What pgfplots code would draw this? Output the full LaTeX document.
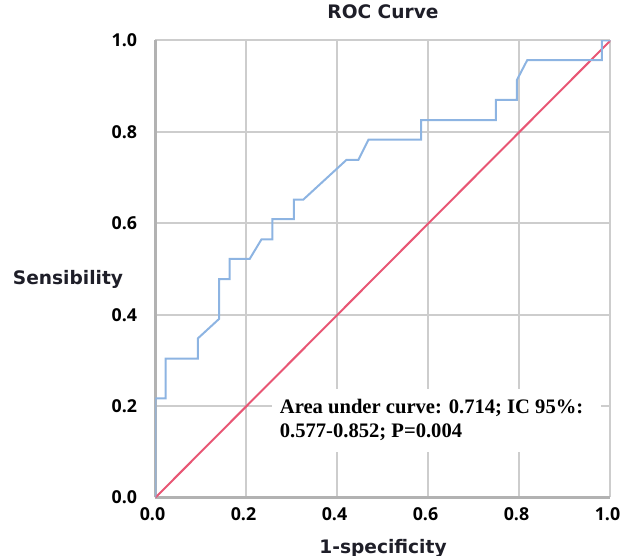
\documentclass[border=0pt]{standalone}
\usepackage{fontspec}
\setmainfont{Liberation Serif}
\newfontfamily\labfont{DejaVu Sans}
\newfontfamily\tickfont{Open Sans}
\usepackage{pgfplots}
\pgfplotsset{compat=1.18}
\definecolor{roc}{RGB}{141,180,226}
\definecolor{diag}{RGB}{232,86,116}
\definecolor{gridc}{RGB}{205,205,205}
\definecolor{labc}{RGB}{30,30,40}

\begin{document}
\begin{tikzpicture}
\begin{axis}[
  scale only axis, width=227.5pt, height=228.5pt,
  xmin=0, xmax=1, ymin=0, ymax=1,
  xtick={0,0.2,0.4,0.6,0.8,1}, ytick={0,0.2,0.4,0.6,0.8,1},
  xticklabels={0.0,0.2,0.4,0.6,0.8,1.0},
  yticklabels={0.0,0.2,0.4,0.6,0.8,1.0},
  major tick length=0pt,
  grid=major, grid style={gridc, line width=1pt},
  axis x line*=bottom, axis y line*=left,
  axis line style={gray!60, line width=1.2pt, -},
  ticklabel style={font=\tickfont\bfseries\fontsize{8.9}{10}\selectfont, inner sep=0pt},
  xticklabel style={anchor=north, yshift=-5pt, xshift=-1.5pt},
  yticklabel style={anchor=east, xshift=-9pt},
  title={ROC Curve},
  title style={at={(axis description cs:0.5,1)}, anchor=base, yshift=4.75pt,
    font=\labfont\bfseries\fontsize{9.3}{11}\selectfont, text=labc, inner sep=0pt},
  xlabel={1-specificity},
  xlabel style={at={(axis description cs:0.5,0)}, anchor=base, yshift=-27.9pt,
    font=\labfont\bfseries\fontsize{9.3}{11}\selectfont, text=labc, inner sep=0pt},
]
  \addplot[diag, line width=1pt] coordinates {(0,0) (1,1)};
  \addplot[roc, line width=1pt] coordinates {
    (0,0) (0,0.217) (0.022,0.217) (0.022,0.304) (0.093,0.304) (0.093,0.348)
    (0.140,0.391) (0.140,0.478) (0.163,0.478) (0.163,0.522) (0.207,0.522)
    (0.233,0.565) (0.257,0.565) (0.257,0.609) (0.304,0.609) (0.304,0.652)
    (0.325,0.652) (0.420,0.739) (0.446,0.739) (0.468,0.783) (0.584,0.783)
    (0.584,0.826) (0.748,0.826) (0.748,0.870) (0.794,0.870) (0.794,0.913)
    (0.817,0.957) (0.981,0.957) (0.981,1.0) (1.0,1.0)
  };
  \fill[white] (axis cs:0.257,0.10) rectangle (axis cs:0.98,0.237);
  \node[anchor=base west, inner sep=0pt, font=\bfseries\fontsize{10.3}{12}\selectfont]
    at (axis cs:0.2725,0.1845) {Area under curve: 0.714; IC 95\%:};
  \node[anchor=base west, inner sep=0pt, font=\bfseries\fontsize{10.3}{12}\selectfont]
    at (axis cs:0.2725,0.1314) {0.577-0.852; P=0.004};
\end{axis}
\path (current axis.south west) ++(-43.75pt,106.25pt)
  node[anchor=base, inner sep=0pt, text=labc, font=\labfont\bfseries\fontsize{9.3}{11}\selectfont] {Sensibility};
\pgfresetboundingbox
\path[use as bounding box] (current axis.south west) ++(-77.75pt,-29.25pt) rectangle ++(311pt,278pt);
\end{tikzpicture}
\end{document}
